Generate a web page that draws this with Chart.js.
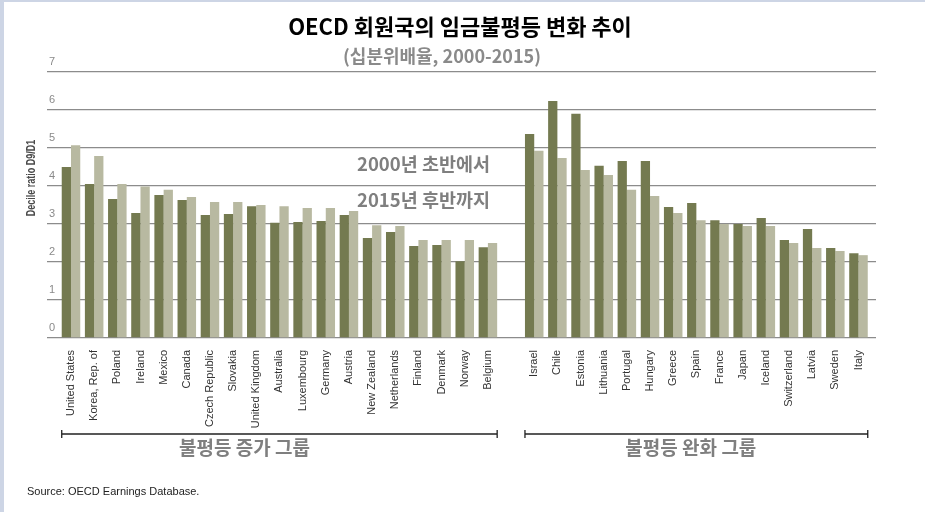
<!DOCTYPE html>
<html><head><meta charset="utf-8">
<script src="https://cdn.jsdelivr.net/npm/chart.js@4.4.0/dist/chart.umd.min.js"></script>
<style>html,body{margin:0;padding:0;background:#fff;overflow:hidden}#wrap{width:925px;height:512px;position:relative}</style>
</head><body><div id="wrap"><canvas id="c" width="925" height="512"></canvas></div>
<script>
// Inequality increased (2000s -> 2015)
const increaseCountries = ['United States','Korea, Rep. of','Poland','Ireland','Mexico','Canada','Czech Republic','Slovakia','United Kingdom','Australia','Luxembourg','Germany','Austria','New Zealand','Netherlands','Finland','Denmark','Norway','Belgium'];
const increaseEarly = [4.50,4.05,3.66,3.29,3.76,3.63,3.24,3.26,3.47,3.03,3.05,3.08,3.24,2.63,2.79,2.42,2.45,2.02,2.39];
const increaseLate  = [5.07,4.79,4.05,3.99,3.90,3.71,3.58,3.58,3.50,3.47,3.42,3.42,3.34,2.97,2.95,2.58,2.58,2.58,2.50];
// Inequality eased
const easeCountries = ['Israel','Chile','Estonia','Lithuania','Portugal','Hungary','Greece','Spain','France','Japan','Iceland','Switzerland','Latvia','Sweden','Italy'];
const easeEarly = [5.37,6.24,5.90,4.53,4.66,4.66,3.45,3.55,3.10,3.00,3.16,2.58,2.87,2.37,2.23];
const easeLate  = [4.93,4.74,4.42,4.29,3.90,3.74,3.29,3.10,3.00,2.95,2.95,2.50,2.37,2.29,2.18];
const yTicks = [0,1,2,3,4,5,6,7];

const titleText = 'OECD 회원국의 임금불평등 변화 추이';
const subtitleText = '(십분위배율, 2000-2015)';
const noteLines = ['2000년 초반에서','2015년 후반까지'];
const groupLabels = ['불평등 증가 그룹','불평등 완화 그룹'];
const yTitle = 'Decile ratio D9/D1';
const sourceText = 'Source: OECD Earnings Database.';

// category positions: left group, one blank slot, right group
const labels = [...increaseCountries, '', ...easeCountries];
const earlyAll = [...increaseEarly, null, ...easeEarly];
const lateAll = [...increaseLate, null, ...easeLate];
const toPts = arr => arr.map((v,i)=>({x:i,y:v})).filter(p=>p.y!==null);

const DARK = '#747a50', LIGHT = '#b8b9a1';

const deco = {
  id:'deco',
  beforeDraw(chart){
    const ctx = chart.ctx;
    ctx.save();
    ctx.fillStyle='#fff'; ctx.fillRect(0,0,chart.width,chart.height);
    ctx.fillStyle='#cdd5e5';
    ctx.fillRect(0,0,4,chart.height);
    ctx.fillRect(0,0,chart.width,2);
    ctx.restore();
  },
  afterDraw(chart){
    const ctx = chart.ctx, xs = chart.scales.x;
    ctx.save();
    ctx.textAlign='center'; ctx.textBaseline='middle';
    ctx.fillStyle='#000';
    ctx.font='bold 22px "Noto Sans CJK KR", sans-serif';
    ctx.fillText(titleText, 460, 27);
    ctx.fillStyle='#8a8a8a';
    ctx.font='bold 18px "Noto Sans CJK KR", sans-serif';
    ctx.fillText(subtitleText, 442, 56);
    ctx.fillStyle='#7f7f7f';
    ctx.font='bold 18.5px "Noto Sans CJK KR", sans-serif';
    ctx.textAlign='left';
    ctx.fillText(noteLines[0], 357, 164);
    ctx.fillText(noteLines[1], 357, 200);
    // y title
    ctx.save();
    ctx.translate(32, 178); ctx.rotate(-Math.PI/2); ctx.scale(0.72,1);
    ctx.textAlign='center';
    ctx.fillStyle='#4a4a4a';
    ctx.font='bold 12.5px "Liberation Sans", Arial, sans-serif';
    ctx.fillText(yTitle, 0, 0);
    ctx.restore();
    // brackets
    const half = (xs.getPixelForValue(1)-xs.getPixelForValue(0))*0.4;
    const groups = [[0, increaseCountries.length-1],[increaseCountries.length+1, labels.length-1]];
    const shifts = [-35, -5.5];
    ctx.strokeStyle='#222'; ctx.lineWidth=1.3;
    groups.forEach((g,k)=>{
      const a = xs.getPixelForValue(g[0])-half, b = xs.getPixelForValue(g[1])+half;
      const y = 434;
      ctx.beginPath();
      ctx.moveTo(a,y); ctx.lineTo(b,y);
      ctx.moveTo(a,y-4); ctx.lineTo(a,y+4);
      ctx.moveTo(b,y-4); ctx.lineTo(b,y+4);
      ctx.stroke();
      ctx.textAlign='center';
      ctx.fillStyle='#7f7f7f';
      ctx.font='bold 19px "Noto Sans CJK KR", sans-serif';
      ctx.fillText(groupLabels[k], (a+b)/2 + shifts[k], 448);
    });
    ctx.textAlign='left';
    ctx.fillStyle='#222';
    ctx.font='11px "Liberation Sans", Arial, sans-serif';
    ctx.fillText(sourceText, 27, 492);
    ctx.restore();
  }
};

new Chart(document.getElementById('c'), {
  type:'bar',
  data:{
    datasets:[
      {label:noteLines[0], data:toPts(earlyAll), backgroundColor:DARK, categoryPercentage:0.8, barPercentage:1.0},
      {label:noteLines[1], data:toPts(lateAll), backgroundColor:LIGHT, categoryPercentage:0.8, barPercentage:1.0}
    ]
  },
  options:{
    responsive:false, animation:false,
    layout:{padding:{left:47,right:49,top:72,bottom:0}},
    plugins:{legend:{display:false},tooltip:{enabled:false},title:{display:false}},
    scales:{
      x:{
        type:'linear', min:-1.036, max:34.756, offset:false,
        grid:{display:false}, border:{display:false},
        afterBuildTicks(scale){ scale.ticks = labels.map((l,i)=>({value:i})).filter(t=>labels[t.value]!==''); },
        afterFit(scale){ scale.height = 174; },
        ticks:{autoSkip:false, maxRotation:90, minRotation:90, padding:4, color:'#333',
          font:{family:'"Liberation Sans", Arial, sans-serif', size:11},
          callback:(v)=>labels[v]}
      },
      y:{
        min:0, max:7,
        afterBuildTicks(scale){ scale.ticks = yTicks.map(v=>({value:v})); },
        afterFit(scale){ scale.width = 0; },
        grid:{color:'#8c8c8c', lineWidth:1.3, drawTicks:false},
        border:{display:false},
        ticks:{mirror:true, labelOffset:-10, padding:2, color:'#8a8a8a',
          font:{family:'"Liberation Sans", Arial, sans-serif', size:11}}
      }
    }
  },
  plugins:[deco]
});
</script>
</body></html>
